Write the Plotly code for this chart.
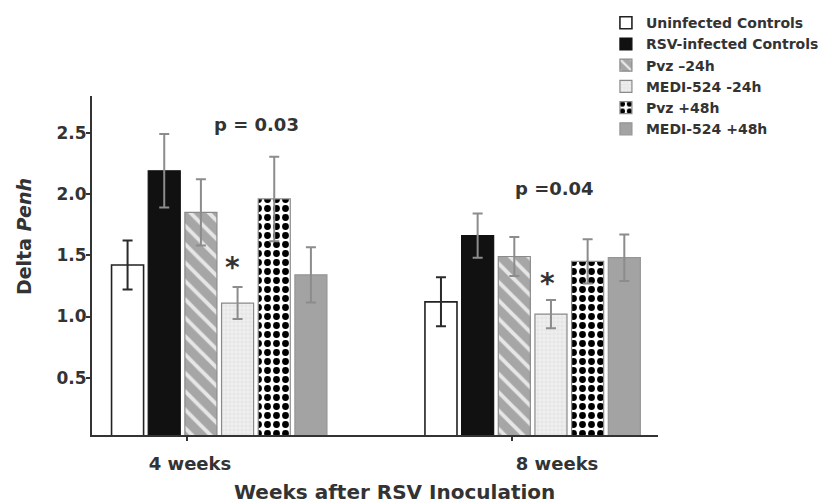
import plotly.graph_objects as go

categories = ["4 weeks", "8 weeks"]
series_names = ["Uninfected Controls", "RSV-infected Controls", "Pvz \u201324h",
                "MEDI-524 -24h", "Pvz +48h", "MEDI-524 +48h"]
values = {
    "Uninfected Controls": [1.42, 1.12],
    "RSV-infected Controls": [2.19, 1.66],
    "Pvz \u201324h": [1.85, 1.49],
    "MEDI-524 -24h": [1.11, 1.02],
    "Pvz +48h": [1.96, 1.45],
    "MEDI-524 +48h": [1.34, 1.48],
}
errors = {
    "Uninfected Controls": [0.20, 0.20],
    "RSV-infected Controls": [0.30, 0.18],
    "Pvz \u201324h": [0.27, 0.16],
    "MEDI-524 -24h": [0.13, 0.115],
    "Pvz +48h": [0.345, 0.18],
    "MEDI-524 +48h": [0.225, 0.19],
}
y_ticks = [0.5, 1.0, 1.5, 2.0, 2.5]
p_labels = ["p = 0.03", "p =0.04"]

FONT = "DejaVu Sans"

styles = {
    "Uninfected Controls": dict(color="white", line=dict(color="#222", width=1.6)),
    "RSV-infected Controls": dict(color="#111", line=dict(color="#111", width=1.2)),
    "Pvz \u201324h": dict(color="#a9a9a9", line=dict(color="#8a8a8a", width=1.2),
                          pattern=dict(shape="\\", fgcolor="#e6e6e6", bgcolor="#a6a6a6",
                                       size=13, solidity=0.3, fgopacity=1)),
    "MEDI-524 -24h": dict(color="#ececec", line=dict(color="#8a8a8a", width=1.2),
                          pattern=dict(shape="+", fgcolor="#d8d8d8", bgcolor="#efefef",
                                       size=4, solidity=0.2, fgopacity=1)),
    "Pvz +48h": dict(color="#111", line=dict(color="#8a8a8a", width=1.2),
                     pattern=dict(shape=".", fgcolor="#000000", bgcolor="white",
                                  size=9, solidity=0.45, fgopacity=1)),
    "MEDI-524 +48h": dict(color="#a3a3a3", line=dict(color="#959595", width=1.2)),
}
err_colors = {
    "Uninfected Controls": "#2a2a2a",
}

fig = go.Figure()
for name in series_names:
    fig.add_trace(go.Bar(
        name=name, x=categories, y=values[name],
        marker=styles[name],
        error_y=dict(type="data", array=errors[name], visible=True,
                     color=err_colors.get(name, "#8c8c8c"), thickness=2, width=5),
    ))

# empty helper traces so the overlaid tick-mark / tick-label axes are drawn
for ax in ["x2", "x3"]:
    fig.add_trace(go.Scatter(x=[0, 1], y=[None, None], xaxis=ax, yaxis="y",
                             mode="markers", showlegend=False, hoverinfo="skip"))

fig.update_layout(
    width=824, height=503,
    margin=dict(l=92, r=166, t=96, b=68, autoexpand=False),
    paper_bgcolor="white", plot_bgcolor="white",
    barmode="group", bargap=0.298, bargroupgap=0.126,
    font=dict(family=FONT, color="#333", size=14, weight="bold"),
    showlegend=True,
    legend=dict(x=0.908, y=1.262, xanchor="left", yanchor="top",
                font=dict(family=FONT, size=14, color="#333", weight="bold"),
                bgcolor="rgba(0,0,0,0)", tracegroupgap=0),
    xaxis=dict(type="category", range=[-0.406, 1.40], showline=True,
               linecolor="#333", linewidth=2, ticks="", showticklabels=False,
               showgrid=False, zeroline=False),
    xaxis2=dict(type="linear", overlaying="x", anchor="y", side="bottom",
                range=[-0.293, 1.448], tickmode="array", tickvals=[0, 1],
                ticktext=["", ""], ticks="outside", ticklen=5, tickwidth=2,
                tickcolor="#333", showline=False, showgrid=False, zeroline=False),
    xaxis3=dict(type="linear", overlaying="x", anchor="y", side="bottom",
                range=[-0.267, 1.275], tickmode="array", tickvals=[0, 1],
                ticktext=categories, ticks="", showline=False, showgrid=False,
                zeroline=False, ticklabelstandoff=16,
                tickfont=dict(family=FONT, size=18, color="#333", weight="bold")),
    yaxis=dict(range=[0.033, 2.8], tickmode="array", tickvals=y_ticks,
               ticktext=[f"{v:.1f}" for v in y_ticks], ticks="outside", ticklen=4,
               tickwidth=1.5, tickcolor="#333", showline=True, linecolor="#333",
               linewidth=2, showgrid=False, zeroline=False, ticklabelstandoff=-4,
               tickfont=dict(family=FONT, size=17, color="#333", weight="bold")),
)

ann_font = dict(family=FONT, color="#333", weight="bold")
common = dict(xref="paper", yref="paper", showarrow=False,
              xanchor="center", yanchor="middle")
fig.add_annotation(text="Delta <i>Penh</i>", x=-0.120, y=0.584, textangle=-90,
                   font=dict(size=19, **ann_font), **common)
fig.add_annotation(text="Weeks after RSV Inoculation", x=0.5336, y=-0.168,
                   font=dict(size=20, **ann_font), **common)
fig.add_annotation(text=p_labels[0], x=0.2915, y=0.917,
                   font=dict(size=18, **ann_font), **common)
fig.add_annotation(text=p_labels[1], x=0.818, y=0.7286,
                   font=dict(size=18, **ann_font), **common)
fig.add_annotation(text="*", x=0.249, y=0.495,
                   font=dict(size=28, **ann_font), **common)
fig.add_annotation(text="*", x=0.804, y=0.448,
                   font=dict(size=28, **ann_font), **common)

fig.write_html("out.html", post_script="document.body.style.margin='0';",
               config={"displayModeBar": False})
